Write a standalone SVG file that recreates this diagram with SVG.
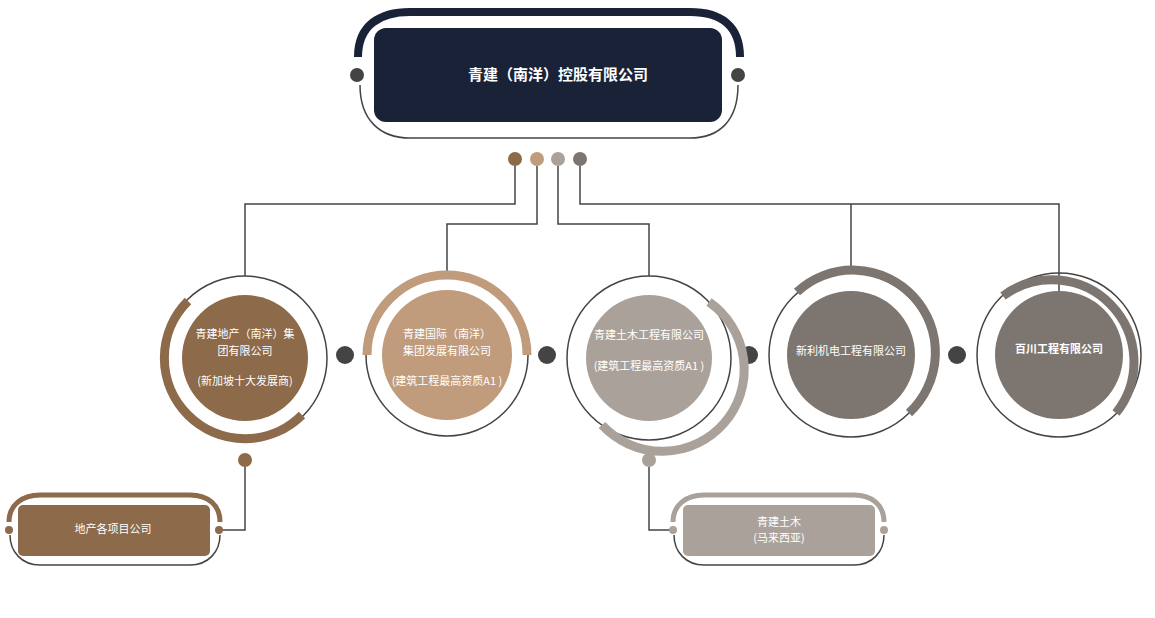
<svg xmlns="http://www.w3.org/2000/svg" width="1155" height="618" viewBox="0 0 1155 618">
<style>
text{font-family:"Noto Sans CJK SC","Liberation Sans",sans-serif;fill:#fff;text-anchor:middle;font-size:11px}
.thin{fill:none;stroke:#444;stroke-width:1.5}
.conn{fill:none;stroke:#444;stroke-width:1.5}
.thick{fill:none;stroke-width:9}
.gd{fill:#444}
</style>
<rect width="1155" height="618" fill="#fff"/>
<g id="connectors">
<path class="conn" d="M515,166V204H245V276"/>
<path class="conn" d="M537,166V224H447V272"/>
<path class="conn" d="M558,166V224H649V276"/>
<path class="conn" d="M580,166V204H1059V291M851,204V273"/>
<path class="conn" d="M245,467V530H221"/>
<path class="conn" d="M649,467V530H671"/>
<circle cx="515" cy="159" r="7" fill="#8c6a4a"/>
<circle cx="537" cy="159" r="7" fill="#c09c7c"/>
<circle cx="558" cy="159" r="7" fill="#aaa29a"/>
<circle cx="580" cy="159" r="7" fill="#7d7670"/>
<circle class="gd" cx="345" cy="355" r="9"/>
<circle class="gd" cx="547" cy="355" r="9"/>
<circle class="gd" cx="749" cy="355" r="9"/>
<circle class="gd" cx="957" cy="355" r="9"/>
<circle cx="245" cy="460" r="7" fill="#8c6a4a"/>
<circle cx="649" cy="460" r="7" fill="#aaa29a"/>
</g>
<g id="root">
<path d="M358,57C358,25 380,12 410,12H690C720,12 740,25 740,57" fill="none" stroke="#1a2238" stroke-width="8"/>
<path class="thin" d="M360,85C360,120 380,138 410,138H690C720,138 738,120 738,85"/>
<rect x="374" y="28" width="348" height="94" rx="12" fill="#1a2238"/>
<circle class="gd" cx="357" cy="75" r="7"/>
<circle class="gd" cx="738" cy="75" r="7"/>
<text x="558" y="80" style="font-size:15px;font-weight:bold">青建（南洋）控股有限公司</text>
</g>
<g id="n1">
<circle class="thin" cx="245" cy="358" r="82"/>
<path class="thick" stroke="#8c6a4a" d="M188,301A80,80 0 1 0 302,415"/>
<circle cx="245" cy="358" r="63" fill="#8c6a4a"/>
<text x="245" y="338">青建地产（南洋）集</text>
<text x="245" y="355">团有限公司</text>
<text x="245" y="385">(新加坡十大发展商)</text>
</g>
<g id="n2">
<circle class="thin" cx="447" cy="355" r="81"/>
<path class="thick" stroke="#c09c7c" d="M367,355A80,80 0 0 1 527,355"/>
<circle cx="447" cy="355" r="65" fill="#c09c7c"/>
<text x="447" y="338">青建国际（南洋）</text>
<text x="447" y="355">集团发展有限公司</text>
<text x="447" y="385">(建筑工程最高资质A1 )</text>
</g>
<g id="n3">
<circle class="thin" cx="649" cy="358" r="82"/>
<path class="thick" stroke="#aaa29a" d="M709,302A82,82 0 1 1 602,425"/>
<circle cx="649" cy="358" r="63" fill="#aaa29a"/>
<text x="649" y="339">青建土木工程有限公司</text>
<text x="649" y="370">(建筑工程最高资质A1 )</text>
</g>
<g id="n4">
<circle class="thin" cx="851" cy="355" r="82"/>
<path class="thick" stroke="#7d7670" d="M797,292A82,82 0 0 1 909,413"/>
<circle cx="851" cy="355" r="64" fill="#7d7670"/>
<text x="851" y="355">新利机电工程有限公司</text>
</g>
<g id="n5">
<circle class="thin" cx="1059" cy="355" r="82"/>
<path class="thick" stroke="#7d7670" d="M1003,296A82,82 0 0 1 1116,413"/>
<circle cx="1059" cy="355" r="64" fill="#7d7670"/>
<text x="1059" y="353" style="font-weight:bold">百川工程有限公司</text>
</g>
<g id="b1">
<path d="M9,522C9,505 22,495 40,495H190C208,495 220,505 220,522" fill="none" stroke="#8c6a4a" stroke-width="5"/>
<path class="thin" d="M10,535C10,552 22,565 40,565H190C208,565 220,552 220,535"/>
<rect x="18" y="505" width="192" height="51" rx="5" fill="#8c6a4a"/>
<circle cx="9" cy="530" r="4" fill="#8c6a4a"/>
<circle cx="219" cy="530" r="4" fill="#8c6a4a"/>
<text x="113" y="533">地产各项目公司</text>
</g>
<g id="b2">
<path d="M673,522C673,505 686,495 704,495H854C872,495 884,505 884,522" fill="none" stroke="#aaa29a" stroke-width="5"/>
<path class="thin" d="M674,535C674,552 686,565 704,565H854C872,565 884,552 884,535"/>
<rect x="683" y="505" width="192" height="51" rx="5" fill="#aaa29a"/>
<circle cx="673" cy="530" r="4" fill="#aaa29a"/>
<circle cx="884" cy="530" r="4" fill="#aaa29a"/>
<text x="779" y="526">青建土木</text>
<text x="779" y="542">(马来西亚)</text>
</g>
</svg>
